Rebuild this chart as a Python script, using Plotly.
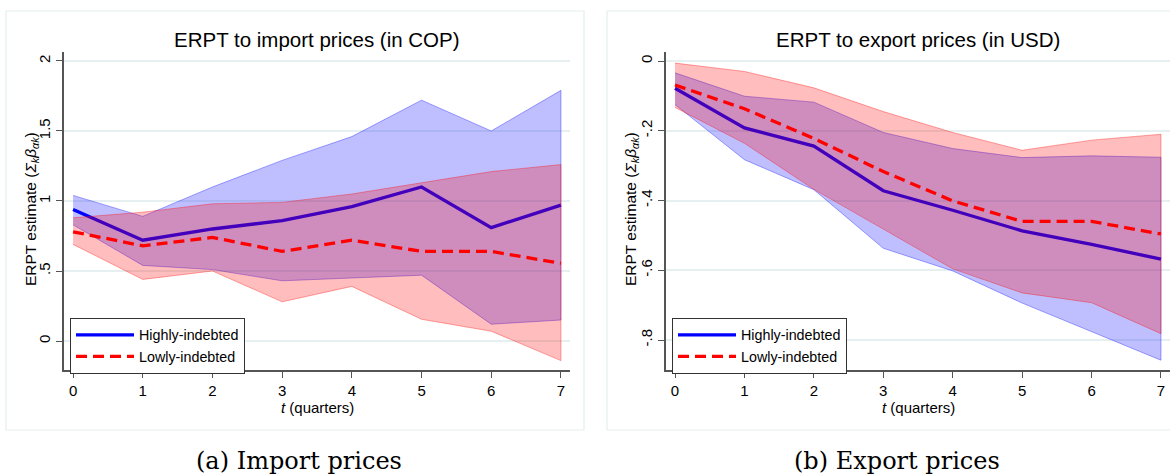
import plotly.graph_objects as go

W, H = 1170, 474

t = [0, 1, 2, 3, 4, 5, 6, 7]

# Import prices (in COP)
imp_high = [0.94, 0.72, 0.80, 0.86, 0.96, 1.10, 0.81, 0.97]
imp_high_up = [1.04, 0.89, 1.10, 1.29, 1.46, 1.72, 1.50, 1.79]
imp_high_lo = [0.83, 0.54, 0.51, 0.43, 0.45, 0.47, 0.12, 0.15]
imp_low = [0.78, 0.68, 0.74, 0.64, 0.72, 0.64, 0.64, 0.555]
imp_low_up = [0.88, 0.92, 0.98, 0.99, 1.05, 1.13, 1.21, 1.26]
imp_low_lo = [0.69, 0.44, 0.50, 0.28, 0.39, 0.155, 0.07, -0.14]

# Export prices (in USD)
exp_high = [-0.078, -0.192, -0.244, -0.372, -0.428, -0.487, -0.526, -0.568]
exp_high_up = [-0.034, -0.101, -0.118, -0.205, -0.251, -0.277, -0.272, -0.276]
exp_high_lo = [-0.125, -0.283, -0.369, -0.537, -0.602, -0.694, -0.775, -0.858]
exp_low = [-0.069, -0.137, -0.222, -0.317, -0.401, -0.46, -0.46, -0.496]
exp_low_up = [-0.006, -0.03, -0.077, -0.145, -0.205, -0.256, -0.227, -0.21]
exp_low_lo = [-0.133, -0.236, -0.368, -0.482, -0.596, -0.665, -0.693, -0.782]

imp_ticks = [0, 0.5, 1, 1.5, 2]
imp_ticktext = ["0", ".5", "1", "1.5", "2"]
exp_ticks = [0, -0.2, -0.4, -0.6, -0.8]
exp_ticktext = ["0", "-.2", "-.4", "-.6", "-.8"]

BLUE = "rgb(0,0,255)"
RED = "rgb(255,0,0)"
BLUE_FILL = "rgba(0,0,255,0.25)"
RED_FILL = "rgba(255,0,0,0.26)"
BLUE_EDGE = "rgba(0,0,255,0.35)"
RED_EDGE = "rgba(255,0,0,0.35)"
FONT = "Liberation Sans, Arial, sans-serif"

fig = go.Figure()


def band(xa, ya, x, up, lo, fill, edge):
    fig.add_trace(go.Scatter(
        x=list(x) + list(x)[::-1], y=list(up) + list(lo)[::-1],
        fill="toself", fillcolor=fill, mode="lines",
        line=dict(color=edge, width=1), showlegend=False,
        hoverinfo="skip", xaxis=xa, yaxis=ya))


def line(xa, ya, x, y, color, dash, name, legend):
    fig.add_trace(go.Scatter(
        x=x, y=y, mode="lines", name=name,
        line=dict(color=color, width=3.3, dash=dash),
        showlegend=True, legend=legend, xaxis=xa, yaxis=ya))


for xa, ya, hh, hu, hl, ll, lu, llo, lg in [
    ("x", "y", imp_high, imp_high_up, imp_high_lo, imp_low, imp_low_up, imp_low_lo, "legend"),
    ("x2", "y2", exp_high, exp_high_up, exp_high_lo, exp_low, exp_low_up, exp_low_lo, "legend2"),
]:
    band(xa, ya, t, hu, hl, BLUE_FILL, BLUE_EDGE)
    line(xa, ya, t, hh, BLUE, "solid", "Highly-indebted", lg)
    band(xa, ya, t, lu, llo, RED_FILL, RED_EDGE)
    line(xa, ya, t, ll, RED, "11px,6px", "Lowly-indebted", lg)


def px_x(p):
    return p / W


def px_y(p):
    return 1 - p / H


ydom = [px_y(370), px_y(52)]
axis_common = dict(
    showline=True, linecolor="#555555", linewidth=1.5,
    ticks="outside", ticklen=6, tickcolor="#555555", tickwidth=1.2,
    tickfont=dict(family=FONT, size=15, color="black"),
    zeroline=False,
)
xaxis_common = dict(axis_common, tickvals=t, showgrid=False, range=[-0.13, 7.13])
yaxis_common = dict(axis_common, domain=ydom, tickangle=-90, ticklabelstandoff=0,
                    showgrid=True, gridcolor="#E6F0F1", gridwidth=1.5)

legend_common = dict(xanchor="left", yanchor="top",
                     bordercolor="#333333", borderwidth=1, bgcolor="white",
                     font=dict(family=FONT, size=14.3, color="black"),
                     itemwidth=58, tracegroupgap=0)

fig.update_layout(
    width=W, height=H,
    margin=dict(l=0, r=0, t=0, b=0),
    paper_bgcolor="white", plot_bgcolor="white",
    font=dict(family=FONT, color="black"),
    xaxis=dict(xaxis_common, domain=[px_x(64), px_x(570)], anchor="y"),
    xaxis2=dict(xaxis_common, domain=[px_x(666), 1.0], anchor="y2"),
    yaxis=dict(yaxis_common, anchor="x", range=[-0.207, 2.064],
               tickvals=imp_ticks, ticktext=imp_ticktext),
    yaxis2=dict(yaxis_common, anchor="x2", range=[-0.886, 0.0258],
                tickvals=exp_ticks, ticktext=exp_ticktext),
    legend=dict(legend_common, x=px_x(70), y=px_y(318)),
    legend2=dict(legend_common, x=px_x(672), y=px_y(318)),
)

# panel borders
for x0, x1 in [(6, 584), (607, 1185)]:
    fig.add_shape(type="rect", xref="paper", yref="paper",
                  x0=px_x(x0), x1=px_x(x1), y0=px_y(430), y1=px_y(11),
                  line=dict(color="#E4EEEE", width=1.2), layer="below")

ytitle = "ERPT estimate (<i>Σ</i><sub><i>k</i></sub><i>β</i><sub><i>αk</i></sub>)"
ann = []
for cx, ttl, yx, cap, capx in [
    (317, "ERPT to import prices (in COP)", 31, "(a) Import prices", 299),
    (918, "ERPT to export prices (in USD)", 631, "(b) Export prices", 897),
]:
    ann.append(dict(x=px_x(cx), y=px_y(39), text=ttl, showarrow=False,
                    xref="paper", yref="paper", xanchor="center", yanchor="middle",
                    font=dict(family=FONT, size=20.5, color="black")))
    ann.append(dict(x=px_x(cx), y=px_y(407), text="<i>t</i> (quarters)", showarrow=False,
                    xref="paper", yref="paper", xanchor="center", yanchor="middle",
                    font=dict(family=FONT, size=15, color="black")))
    ann.append(dict(x=px_x(yx), y=px_y(209), text=ytitle, showarrow=False, textangle=-90,
                    xref="paper", yref="paper", xanchor="center", yanchor="middle",
                    font=dict(family=FONT, size=15.5, color="black")))
    ann.append(dict(x=px_x(capx), y=px_y(461), text=cap, showarrow=False,
                    xref="paper", yref="paper", xanchor="center", yanchor="middle",
                    font=dict(family="DejaVu Serif, serif", size=24, color="black")))
fig.update_layout(annotations=ann)

fig.write_html("out.html")
